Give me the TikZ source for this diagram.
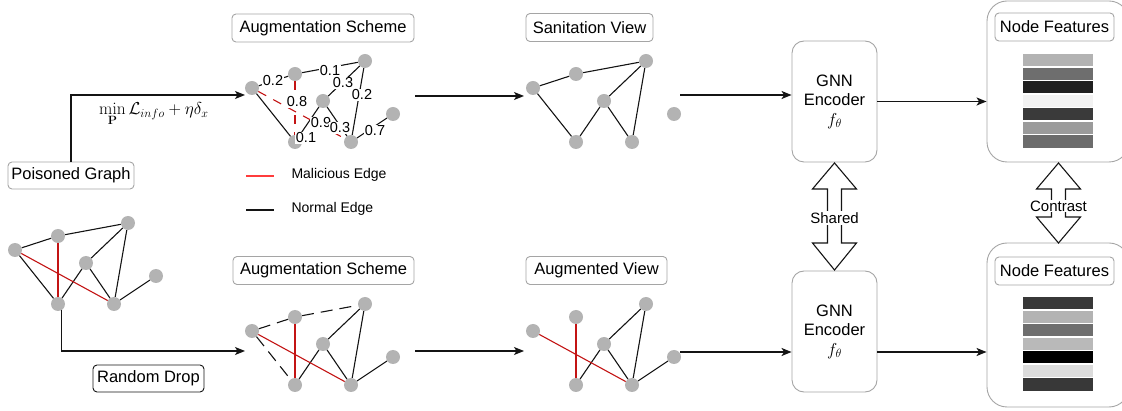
\documentclass[tikz,border=0pt]{standalone}
\usepackage[no-math]{fontspec}
\setmainfont{Liberation Sans}
\usetikzlibrary{arrows.meta,calc}
\definecolor{ngray}{RGB}{179,179,179}
\definecolor{bgray}{RGB}{165,165,165}
\definecolor{ered}{RGB}{195,20,20}
\definecolor{lred}{RGB}{255,60,60}
\definecolor{ink}{RGB}{20,20,20}
\newcommand\mkgraph[3]{%
 \node[gn] (#1-1) at ({252+#2},{88+#3}) {};
 \node[gn] (#1-2) at ({295+#2},{74+#3}) {};
 \node[gn] (#1-3) at ({365+#2},{61+#3}) {};
 \node[gn] (#1-4) at ({323+#2},{101+#3}) {};
 \node[gn] (#1-5) at ({393+#2},{114+#3}) {};
 \node[gn] (#1-6) at ({295+#2},{142+#3}) {};
 \node[gn] (#1-7) at ({351+#2},{142+#3}) {};
}
\tikzset{
 gn/.style={circle, fill=ngray, draw=none, minimum size=14pt, inner sep=0pt},
 ge/.style={draw=ink, line width=1.1pt},
 re/.style={draw=ered, line width=1.1pt},
 dge/.style={ge, dash pattern=on 12pt off 7pt},
 dre/.style={re, dash pattern=on 9pt off 8pt},
 big/.style={font=\fontsize{16.5}{19.5}\selectfont},
 tbox/.style={draw=bgray, rounded corners=4pt, line width=0.9pt, fill=white, big, minimum height=28pt, inner sep=0pt},
 el/.style={fill=white, inner sep=0.6pt, font=\fontsize{14.5}{16}\selectfont},
 arr/.style={draw=ink, line width=1.3pt, -{Stealth[length=10pt,width=8pt,inset=2.5pt]}},
 encbox/.style={draw=bgray, rounded corners=12pt, line width=0.9pt, fill=white, big, minimum width=85pt, minimum height=121pt, align=center, inner sep=0pt},
 cont/.style={draw=bgray, rounded corners=20pt, line width=0.9pt, fill=white, minimum width=142pt, inner sep=0pt},
 dbl/.style={draw=ink, fill=white, line width=1.1pt, line join=miter},
 dlab/.style={fill=white, inner sep=1pt, font=\fontsize{15}{17}\selectfont},
 leg/.style={font=\fontsize{14}{16}\selectfont, anchor=west}
}
\begin{document}
\begin{tikzpicture}[x=1pt,y=-1pt]
\useasboundingbox (0,0) rectangle (1122,411);
% ---------- title boxes
\node[tbox, minimum width=182pt] (aug1) at (323,28) {Augmentation Scheme};
\node[tbox, minimum width=127pt] (san) at (589.5,27.5) {Sanitation View};
\node[tbox, minimum width=181pt] (aug2) at (323.5,270.5) {Augmentation Scheme};
\node[tbox, minimum width=141pt] (augv) at (596.5,270.5) {Augmented View};
\node[tbox, minimum width=126pt, minimum height=27pt] (pg) at (71,175.5) {Poisoned Graph};
\node[tbox, draw=ink, minimum width=111pt, minimum height=27pt] (rd) at (148.5,378.5) {Random Drop};
% ---------- containers
\node[cont, minimum height=161pt] (feat1) at (1058,81.5) {};
\node[cont, minimum height=164pt] (feat2) at (1058,325) {};
\node[tbox, minimum width=119pt] (fl1) at (1054.5,27) {Node Features};
\node[tbox, minimum width=119pt] (fl2) at (1054.5,271) {Node Features};
\foreach \c [count=\i from 0] in {179,110,32,242,58,155,108} {
  \definecolor{barc}{RGB}{\c,\c,\c}
  \fill[barc] (1023,{54+\i*13.57}) rectangle (1093,{54+\i*13.57+12.2});
}
\foreach \c [count=\i from 0] in {56,179,110,185,0,220,56} {
  \definecolor{barc}{RGB}{\c,\c,\c}
  \fill[barc] (1023,{297+\i*13.57}) rectangle (1093,{297+\i*13.57+12.2});
}
% ---------- encoders
\node[encbox] (enc1) at (834.5,101.5) {GNN\\Encoder\\$f_\theta$};
\node[encbox] (enc2) at (834.5,331.5) {GNN\\Encoder\\$f_\theta$};
% ---------- graphs
\mkgraph{t}{0}{0}
\mkgraph{s}{281}{0}
\mkgraph{b}{0}{243}
\mkgraph{v}{281}{243}
\mkgraph{a}{-237}{162}
% top augmentation scheme
\draw[ge] (t-1) -- (t-2); \draw[ge] (t-2) -- (t-3); \draw[ge] (t-3) -- (t-4);
\draw[ge] (t-3) -- (t-7); \draw[ge] (t-1) -- (t-6); \draw[ge] (t-4) -- (t-6);
\draw[ge] (t-4) -- (t-7); \draw[ge] (t-7) -- (t-5);
\draw[dre] (t-2) -- (t-6); \draw[dre] (t-1) -- (t-7);
% sanitation view
\draw[ge] (s-1) -- (s-2); \draw[ge] (s-2) -- (s-3); \draw[ge] (s-3) -- (s-4);
\draw[ge] (s-3) -- (s-7); \draw[ge] (s-1) -- (s-6); \draw[ge] (s-4) -- (s-6);
\draw[ge] (s-4) -- (s-7);
% bottom augmentation scheme
\draw[dge] (b-1) -- (b-2); \draw[dge] (b-2) -- (b-3); \draw[dge] (b-1) -- (b-6);
\draw[ge] (b-3) -- (b-4); \draw[ge] (b-3) -- (b-7); \draw[ge] (b-4) -- (b-6);
\draw[ge] (b-4) -- (b-7); \draw[ge] (b-7) -- (b-5);
\draw[re] (b-2) -- (b-6); \draw[re] (b-1) -- (b-7);
% augmented view
\draw[ge] (v-3) -- (v-4); \draw[ge] (v-3) -- (v-7); \draw[ge] (v-4) -- (v-6);
\draw[ge] (v-4) -- (v-7); \draw[ge] (v-7) -- (v-5);
\draw[re] (v-2) -- (v-6); \draw[re] (v-1) -- (v-7);
% poisoned graph
\draw[ge] (a-1) -- (a-2); \draw[ge] (a-2) -- (a-3); \draw[ge] (a-3) -- (a-4);
\draw[ge] (a-3) -- (a-7); \draw[ge] (a-1) -- (a-6); \draw[ge] (a-4) -- (a-6);
\draw[ge] (a-4) -- (a-7); \draw[ge] (a-7) -- (a-5);
\draw[re] (a-2) -- (a-6); \draw[re] (a-1) -- (a-7);
% edge weights
\node[el] (w1) at (273,81) {0.2};
\node[el] (w2) at (330,71) {0.1};
\node[el] (w3) at (343,83) {0.3};
\node[el] (w4) at (362,95) {0.2};
\node[el] (w5) at (297,102) {0.8};
\node[el] (w6) at (321,123) {0.9};
\node[el] (w7) at (340,128) {0.3};
\node[el] (w8) at (306,138) {0.1};
\node[el] (w9) at (375,131) {0.7};
% legend
\coordinate (l1a) at (246,176); \coordinate (l1b) at (274,176);
\coordinate (l2a) at (246,210); \coordinate (l2b) at (274,210);
\draw[lred, line width=1.2pt] (l1a) -- (l1b);
\draw[ink, line width=1.2pt] (l2a) -- (l2b);
\node[leg] (lm) at (288,175) {Malicious Edge};
\node[leg] (ln) at (288,209) {Normal Edge};
% formula
\node[anchor=base west, inner sep=0pt, font=\fontsize{17}{20}\selectfont] (form) at (99,115) {$\min\limits_{\mathbf{P}}\mathcal{L}_{info}+\eta\delta_x$};
% ---------- arrows
\coordinate (tin) at (245,95);
\coordinate (tout) at (415,96); \coordinate (sin) at (524,96);
\coordinate (sout) at (680,95);
\coordinate (bin) at (245,351);
\coordinate (bout) at (415,351); \coordinate (vin) at (524,351);
\coordinate (vout) at (680,352);
\draw[arr] (pg.north) |- (tin);
\draw[arr] (tout) -- (sin);
\draw[arr] (sout) -- (sout -| enc1.west);
\draw[arr] (enc1.east) -- (enc1.east -| feat1.west);
\draw[arr] (a-6.-60) |- (bin);
\draw[arr] (bout) -- (vin);
\draw[arr] (vout) -- (vout -| enc2.west);
\draw[arr] (enc2.east |- vout) -- (vout -| feat2.west);
% ---------- double arrows
\draw[dbl] (834.5,163) -- (856.5,189) -- (841.5,189) -- (841.5,243) -- (856.5,243)
  -- (834.5,270) -- (812.5,243) -- (827.5,243) -- (827.5,189) -- (812.5,189) -- cycle;
\node[dlab] (shared) at (834.5,218) {Shared};
\draw[dbl] (1058.5,163) -- (1080.5,189) -- (1065.5,189) -- (1065.5,217) -- (1080.5,217)
  -- (1058.5,243) -- (1036.5,217) -- (1051.5,217) -- (1051.5,189) -- (1036.5,189) -- cycle;
\node[dlab] (contrast) at (1058.5,206) {Contrast};
\end{tikzpicture}
\end{document}
